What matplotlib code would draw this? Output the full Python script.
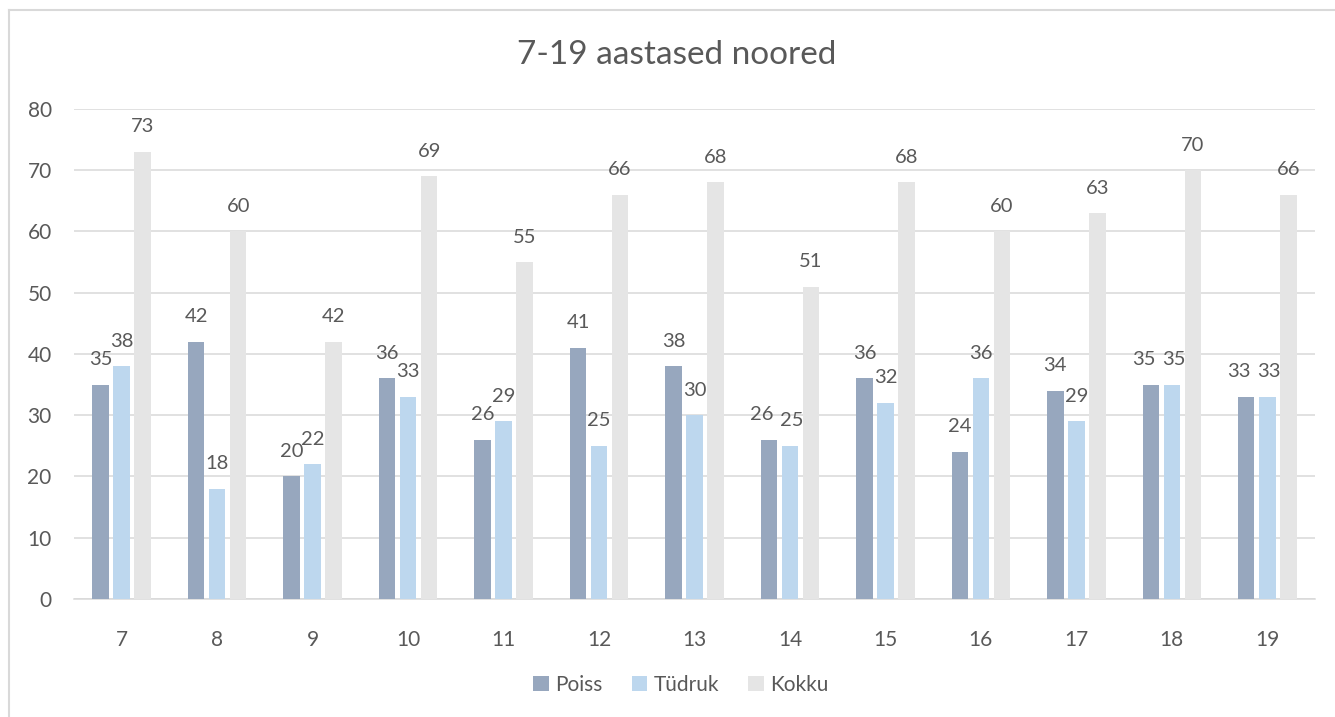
import numpy as np
import matplotlib.pyplot as plt
from matplotlib.lines import Line2D

plt.rcParams['font.family'] = ['Lato', 'DejaVu Sans']

# Data
ages = ['7', '8', '9', '10', '11', '12', '13', '14', '15', '16', '17', '18', '19']
poiss = [35, 42, 20, 36, 26, 41, 38, 26, 36, 24, 34, 35, 33]
tudruk = [38, 18, 22, 33, 29, 25, 30, 25, 32, 36, 29, 35, 33]
kokku = [73, 60, 42, 69, 55, 66, 68, 51, 68, 60, 63, 70, 66]

series = [('Poiss', poiss, '#97a7be'),
          ('Tüdruk', tudruk, '#bdd7ee'),
          ('Kokku', kokku, '#e5e5e5')]

text_color = '#595959'
grid_color = '#d9d9d9'

fig = plt.figure(figsize=(13.35, 7.17), dpi=100)
ax = fig.add_axes([0.0554, 0.1646, 0.9296, 0.6834])

x = np.arange(len(ages))
width = 0.173
offsets = [-0.22, 0.0, 0.22]

for k, ((name, vals, color), off) in enumerate(zip(series, offsets)):
    bars = ax.bar(x + off, vals, width, color=color, label=name, zorder=3)
    for i, (b, v) in enumerate(zip(bars, vals)):
        # nudge labels apart where Poiss and Tüdruk are level, like Excel does
        dx = 0
        if abs(poiss[i] - tudruk[i]) <= 1:
            dx = -5 if k == 0 else (1.5 if k == 1 else 0)
        ax.annotate(str(v), (b.get_x() + b.get_width() / 2, v),
                    xytext=(dx, 18), textcoords='offset points',
                    ha='center', va='center', fontsize=14.5, color=text_color)

ax.set_xlim(-0.5, len(ages) - 0.5)
ax.set_ylim(0, 80)
ax.set_yticks(range(0, 81, 10))
ax.set_xticks(x)
ax.set_xticklabels(ages)
ax.yaxis.grid(True, color=grid_color, linewidth=1.1, zorder=0)
ax.tick_params(axis='both', length=0, labelsize=15, labelcolor=text_color)
ax.tick_params(axis='x', pad=22)
ax.tick_params(axis='y', pad=16)
for side in ['top', 'right', 'left']:
    ax.spines[side].set_visible(False)
ax.spines['bottom'].set_color(grid_color)
ax.spines['bottom'].set_linewidth(1.1)

fig.text(0.507, 0.923, '7-19 aastased noored', ha='center', va='center',
         fontsize=24, color=text_color)

fig.legend(loc='center', bbox_to_anchor=(0.51, 0.045), ncol=3, frameon=False,
           fontsize=15, labelcolor=text_color, handlelength=0.75,
           handleheight=0.75, handletextpad=0.3, columnspacing=1.4)

# chart frame (left and top edges visible)
fig.add_artist(Line2D([0.0071, 0.0071], [0, 0.986], color='#d9d9d9', lw=1.5,
                      transform=fig.transFigure))
fig.add_artist(Line2D([0.0071, 1.0], [0.986, 0.986], color='#d9d9d9', lw=1.5,
                      transform=fig.transFigure))

fig.savefig('out.png', dpi=100)
